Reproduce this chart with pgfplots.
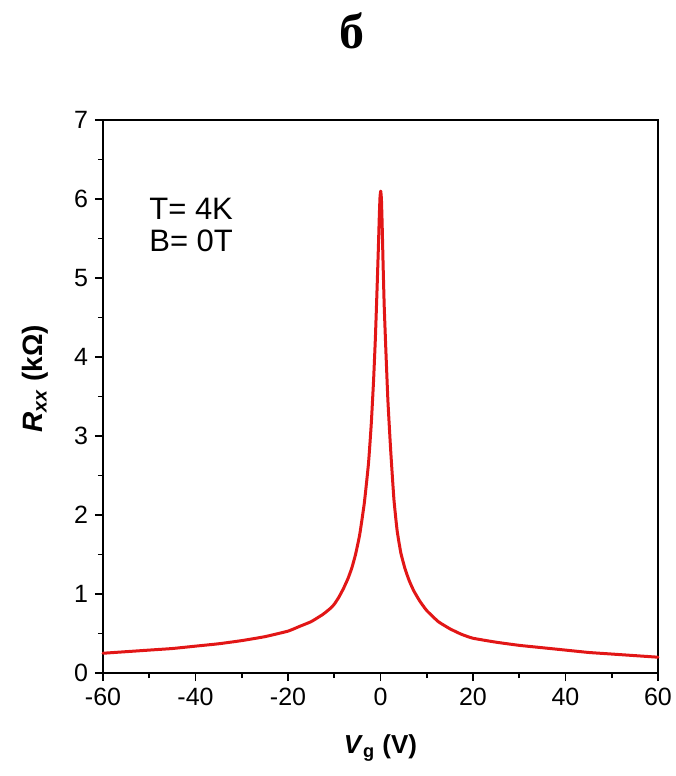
\documentclass[border=0pt]{standalone}
\usepackage{fontspec}
\setmainfont{Liberation Sans}
\newfontfamily\titlefont{Liberation Serif}
\usepackage{pgfplots}
\pgfplotsset{compat=1.18}
\definecolor{curvered}{RGB}{226,22,22}
\begin{document}
\begin{tikzpicture}
\path[use as bounding box] (-51.5pt,-51.5pt) rectangle (286pt,336.5pt);
\begin{axis}[
  at={(0,0)}, anchor=south west,
  scale only axis, width=277.5pt, height=276.5pt,
  xmin=-60, xmax=60, ymin=0, ymax=7,
  xtick={-60,-40,...,60}, ytick={0,1,...,7},
  minor x tick num=1, minor y tick num=1,
  xtick pos=bottom, ytick pos=left,
  tick align=outside,
  major tick length=4pt, minor tick length=2.5pt,
  axis line style={line width=1pt},
  every tick/.style={line width=0.9pt, black},
  /pgf/number format/assume math mode=true,
  tick label style={font=\fontsize{12.5}{14}\selectfont},
  xlabel={\textbf{\textit{V}\textsubscript{g} (V)}},
  ylabel={\textbf{\textit{R}\textsubscript{\textit{xx}} (kΩ)}},
  xlabel style={font=\fontsize{13}{15}\selectfont, at={(axis description cs:0.5,-0.136)}, anchor=center},
  ylabel style={font=\fontsize{14}{16}\selectfont, at={(axis description cs:-0.1225,0.532)}, anchor=center},
  clip=false,
]
\addplot[curvered, line width=1.5pt, line join=round, line cap=round, smooth, tension=0.25] coordinates {
(-60,0.25) (-55,0.27) (-50,0.29) (-45,0.31) (-40,0.34) (-35,0.37) (-30,0.41)
(-25,0.46) (-20,0.53) (-17.5,0.59) (-15,0.65) (-12.5,0.74) (-11,0.81)
(-10,0.87) (-9,0.96) (-8,1.07) (-7,1.2) (-6.2,1.33) (-5.4,1.5) (-4.5,1.75)
(-3.5,2.15) (-2.6,2.65) (-2.0,3.15) (-1.5,3.7) (-1.1,4.25) (-0.75,4.85)
(-0.45,5.4) (-0.25,5.8) (-0.1,6.03) (0.05,6.1) (0.2,6.0) (0.35,5.7) (0.55,5.2)
(0.8,4.65) (1.15,4.1) (1.6,3.45) (2.2,2.82) (2.9,2.2) (3.6,1.8) (4.4,1.52)
(5.3,1.32) (6.2,1.17) (7.2,1.04) (8.5,0.91) (10,0.79) (12.5,0.65) (15,0.56)
(17.5,0.49) (20,0.44) (25,0.39) (30,0.35) (35,0.32) (40,0.29) (45,0.26)
(50,0.24) (55,0.22) (60,0.20)
};
\node[anchor=west, font=\fontsize{15.5}{17}\selectfont] at (axis cs:-51.5,5.88) {T= 4K};
\node[anchor=west, font=\fontsize{15.5}{17}\selectfont] at (axis cs:-51.5,5.47) {B= 0T};
\end{axis}
\node[font=\titlefont\fontsize{25}{28}\selectfont\bfseries] at (124.5pt,321pt) {б};
\end{tikzpicture}
\end{document}
